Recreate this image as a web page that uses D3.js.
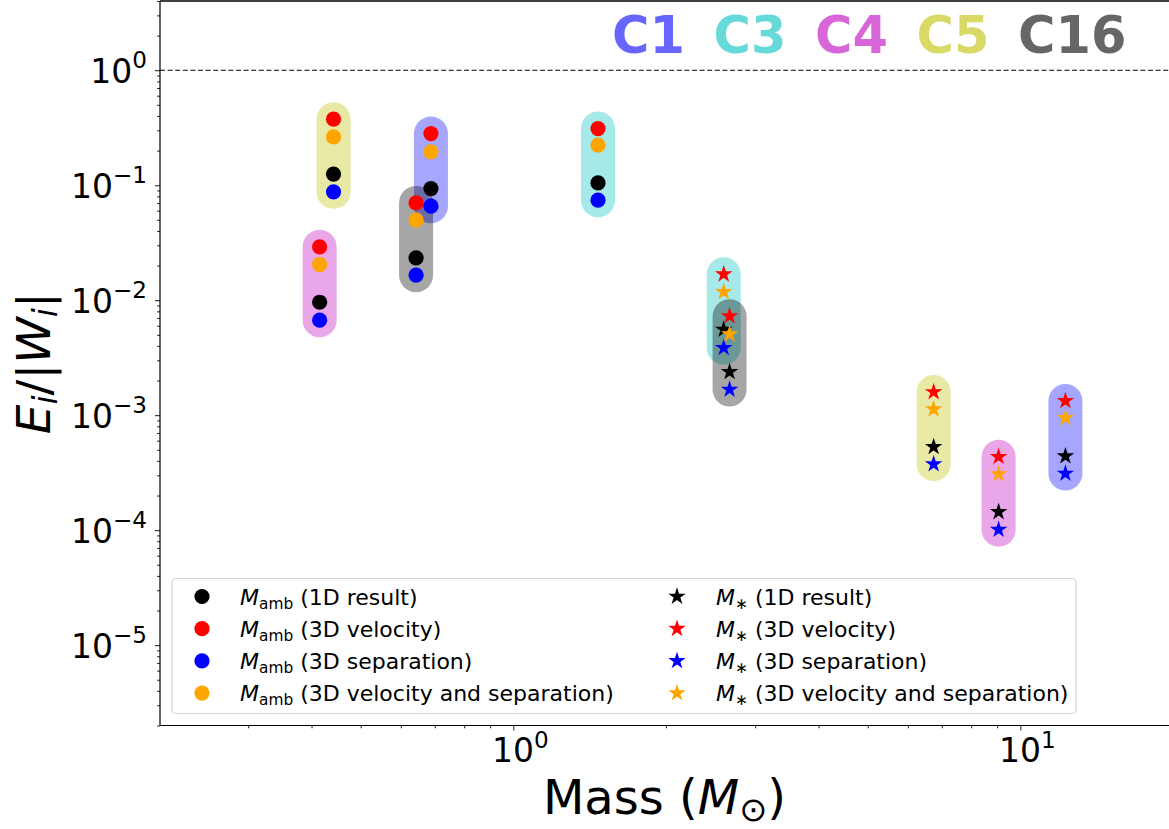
<!DOCTYPE html>
<html>
<head>
<meta charset="utf-8">
<script src="https://cdn.jsdelivr.net/npm/d3@7"></script>
<style>
  body { margin: 0; background: #fff; }
  svg { display: block; font-family: 'DejaVu Sans', sans-serif; }
</style>
</head>
<body>
<div id="chart"></div>
<script>
// Energy ratio vs mass, per cluster
const clusters = ['C1', 'C3', 'C4', 'C5', 'C16'];
const clusterColors = ['#0000ff', '#00bfbf', '#bf00bf', '#bfbf00', '#000000'];

// masses (M_sun) of the two cases for each cluster
const massAmb = [0.688, 1.469, 0.415, 0.442, 0.643];
const massStar = [12.27, 2.60, 9.06, 6.745, 2.67];

// E_i/|W_i| using M_amb
const amb1D = [0.0936, 0.1047, 0.0096, 0.125, 0.0233];
const ambVel = [0.281, 0.311, 0.0291, 0.375, 0.0702];
const ambSep = [0.0657, 0.0741, 0.0067, 0.0875, 0.0165];
const ambVelSep = [0.195, 0.223, 0.0204, 0.263, 0.0496];

// E_i/|W_i| using M_*
const star1D = [0.00044, 0.00556, 0.000144, 0.00053, 0.00238];
const starVel = [0.00133, 0.01683, 0.000434, 0.00159, 0.00726];
const starSep = [0.000311, 0.00385, 0.000101, 0.000375, 0.00167];
const starVelSep = [0.000947, 0.0118, 0.000307, 0.001127, 0.00506];

const seriesNames = ['1D result', '3D velocity', '3D separation', '3D velocity and separation'];
const seriesColors = ['black', 'red', 'blue', 'orange'];
const ambSeries = [amb1D, ambVel, ambSep, ambVelSep];
const starSeries = [star1D, starVel, starSep, starVelSep];

const width = 1169, height = 829;
const margin = { left: 160, top: 1, bottom: 725.5 };

const svg = d3.select('#chart')
  .append('svg')
  .attr('width', width)
  .attr('height', height);

const x = d3.scaleLog().domain([0.201, 20]).range([margin.left, 1173]);
const y = d3.scaleLog().domain([2e-6, 4]).range([margin.bottom, margin.top]);

const isMajor = v => Math.abs(Math.log10(v) - Math.round(Math.log10(v))) < 1e-9;
const sup = (el, base, exp) => {
  el.append('tspan').text(base);
  el.append('tspan').attr('font-size', '0.7em').attr('dy', '-0.62em').text(exp);
};

// dashed reference line at 1
svg.append('line')
  .attr('x1', margin.left).attr('x2', width)
  .attr('y1', y(1)).attr('y2', y(1))
  .attr('stroke', 'black').attr('stroke-width', 1.2)
  .attr('stroke-dasharray', '5,2.6');

// capsules spanning each group of four points
const groups = [];
clusters.forEach((c, i) => {
  groups.push({ color: clusterColors[i], m: massAmb[i], vals: ambSeries.map(s => s[i]) });
  groups.push({ color: clusterColors[i], m: massStar[i], vals: starSeries.map(s => s[i]) });
});
svg.append('g')
  .selectAll('line')
  .data(groups)
  .join('line')
  .attr('x1', d => x(d.m)).attr('x2', d => x(d.m))
  .attr('y1', d => y(d3.max(d.vals))).attr('y2', d => y(d3.min(d.vals)))
  .attr('stroke', d => d.color)
  .attr('stroke-opacity', 0.35)
  .attr('stroke-width', 34)
  .attr('stroke-linecap', 'round');

// points
const star = d3.symbol(d3.symbolStar, 95);
const pts = svg.append('g');
seriesColors.forEach((col, k) => {
  pts.append('g')
    .selectAll('circle')
    .data(clusters.map((c, i) => ({ m: massAmb[i], v: ambSeries[k][i] })))
    .join('circle')
    .attr('cx', d => x(d.m)).attr('cy', d => y(d.v))
    .attr('r', 7.6)
    .attr('fill', col);
});
seriesColors.forEach((col, k) => {
  pts.append('g')
    .selectAll('path')
    .data(clusters.map((c, i) => ({ m: massStar[i], v: starSeries[k][i] })))
    .join('path')
    .attr('transform', d => `translate(${x(d.m)},${y(d.v)})`)
    .attr('d', star)
    .attr('fill', col);
});

// axes
const yTicks = y.ticks().filter(v => v >= 2e-6 && v <= 4);
const xTicks = x.ticks().filter(v => v >= 0.2 && v <= 20);
svg.append('g')
  .attr('transform', `translate(${margin.left},0)`)
  .call(d3.axisLeft(y).tickValues(yTicks).tickFormat('').tickSizeOuter(0))
  .call(g => g.select('.domain').remove())
  .call(g => g.selectAll('.tick line')
    .attr('x2', d => isMajor(d) ? -5 : -2.8)
    .attr('stroke-width', 0.9));
svg.append('g')
  .attr('transform', `translate(0,${margin.bottom})`)
  .call(d3.axisBottom(x).tickValues(xTicks).tickFormat('').tickSizeOuter(0))
  .call(g => g.select('.domain').remove())
  .call(g => g.selectAll('.tick line')
    .attr('y2', d => isMajor(d) ? 5 : 2.8)
    .attr('stroke-width', 0.9));

// spines
svg.append('line').attr('x1', margin.left).attr('x2', margin.left)
  .attr('y1', margin.top).attr('y2', margin.bottom)
  .attr('stroke', 'black').attr('stroke-width', 1.2);
svg.append('line').attr('x1', margin.left).attr('x2', width)
  .attr('y1', margin.bottom).attr('y2', margin.bottom)
  .attr('stroke', 'black').attr('stroke-width', 1.2);
svg.append('line').attr('x1', margin.left).attr('x2', width)
  .attr('y1', margin.top).attr('y2', margin.top)
  .attr('stroke', 'black').attr('stroke-width', 1.4);

// tick labels
yTicks.filter(isMajor).forEach(v => {
  const t = svg.append('text')
    .attr('x', 147).attr('y', y(v) + 12.5)
    .attr('text-anchor', 'end')
    .attr('font-size', 33);
  sup(t, '10', Math.round(Math.log10(v)).toString().replace('-', '\u2212'));
});
xTicks.filter(isMajor).forEach(v => {
  const t = svg.append('text')
    .attr('x', x(v) + 7).attr('y', 762)
    .attr('text-anchor', 'middle')
    .attr('font-size', 33);
  sup(t, '10', Math.round(Math.log10(v)).toString());
});

// axis titles
const xl = svg.append('text')
  .attr('x', (margin.left + width) / 2).attr('y', 814)
  .attr('text-anchor', 'middle')
  .attr('font-size', 48);
xl.append('tspan').text('Mass (');
xl.append('tspan').attr('font-style', 'italic').text('M');
xl.append('tspan').attr('font-size', '0.7em').attr('dy', 7).text('\u2299');
xl.append('tspan').attr('dy', -7).text(')');

const yl = svg.append('text')
  .attr('transform', `translate(50,${(margin.top + margin.bottom) / 2}) rotate(-90)`)
  .attr('text-anchor', 'middle')
  .attr('font-size', 47);
yl.append('tspan').attr('font-style', 'italic').text('E');
yl.append('tspan').attr('font-style', 'italic').attr('font-size', '0.7em').attr('dy', 7).text('i');
yl.append('tspan').attr('dy', -7).text('/|');
yl.append('tspan').attr('font-style', 'italic').text('W');
yl.append('tspan').attr('font-style', 'italic').attr('font-size', '0.7em').attr('dy', 7).text('i');
yl.append('tspan').attr('dy', -7).text('|');

// cluster names
svg.append('g')
  .selectAll('text')
  .data(clusters)
  .join('text')
  .attr('x', (d, i) => 612 + i * 101.5)
  .attr('y', 53)
  .attr('font-size', 51)
  .attr('font-weight', 'bold')
  .attr('fill', (d, i) => clusterColors[i])
  .attr('fill-opacity', 0.6)
  .text(d => d);

// legend
const legend = svg.append('g');
legend.append('rect')
  .attr('x', 172).attr('y', 578.5)
  .attr('width', 904).attr('height', 135)
  .attr('rx', 4)
  .attr('fill', 'white').attr('fill-opacity', 0.8)
  .attr('stroke', '#d3d3d3').attr('stroke-width', 1.2);
const rowY = k => 596.5 + k * 32.2;
seriesNames.forEach((name, k) => {
  legend.append('circle')
    .attr('cx', 202).attr('cy', rowY(k)).attr('r', 7.6)
    .attr('fill', seriesColors[k]);
  const t1 = legend.append('text')
    .attr('x', 240).attr('y', rowY(k) + 8)
    .attr('font-size', 22);
  t1.append('tspan').attr('font-style', 'italic').text('M');
  t1.append('tspan').attr('font-size', '0.7em').attr('dy', 4).text('amb');
  t1.append('tspan').attr('dy', -4).text(' (' + name + ')');

  legend.append('path')
    .attr('transform', `translate(677,${rowY(k)})`)
    .attr('d', star)
    .attr('fill', seriesColors[k]);
  const t2 = legend.append('text')
    .attr('x', 716).attr('y', rowY(k) + 8)
    .attr('font-size', 22);
  t2.append('tspan').attr('font-style', 'italic').text('M');
  t2.append('tspan').attr('font-size', '0.7em').attr('dy', 4).text('\u2217');
  t2.append('tspan').attr('dy', -4).text(' (' + name + ')');
});
</script>
</body>
</html>
